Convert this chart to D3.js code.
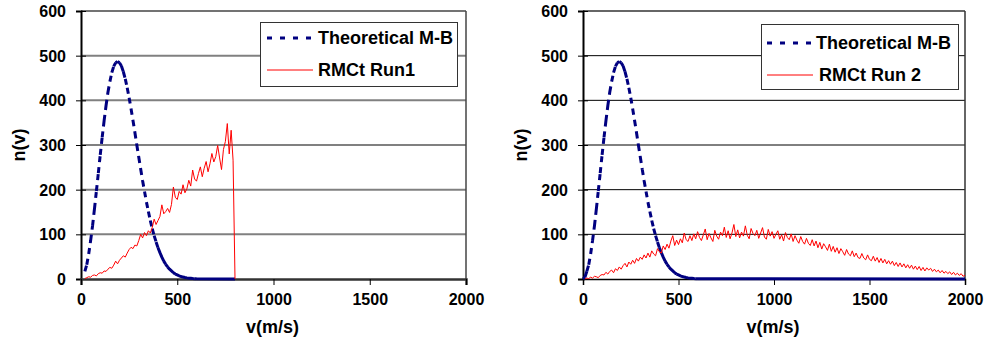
<!DOCTYPE html>
<html>
<head>
<meta charset="utf-8">
<script src="https://cdn.jsdelivr.net/npm/d3@7"></script>
<style>
  html, body { margin: 0; padding: 0; background: #fff; }
  svg { display: block; }
  text { font-family: "Liberation Sans", Arial, Helvetica, sans-serif; font-weight: bold; fill: #000; }
</style>
</head>
<body>
<script>
// ---------------- data ----------------
const xTickValues = [0, 500, 1000, 1500, 2000];
const yTickValues = [0, 100, 200, 300, 400, 500, 600];
const xTitle = "v(m/s)";
const yTitle = "n(v)";
const seriesNames1 = ["Theoretical M-B", "RMCt Run1"];
const seriesNames2 = ["Theoretical M-B", "RMCt Run 2"];

// Theoretical Maxwell-Boltzmann curve, v = 0..600 step 10
const mbV = [0,10,20,30,40,50,60,70,80,90,100,110,120,130,140,150,160,170,180,190,200,
  210,220,230,240,250,260,270,280,290,300,310,320,330,340,350,360,370,380,390,400,
  410,420,430,440,450,460,470,480,490,500,510,520,530,540,550,560,570,580,590,600];
const mbN = [0,4,17,32,56,86,119,157,197,237,278,317,354,388,418,442,462,476,484,487,484,
  477,464,448,428,406,381,355,328,300,273,246,220,196,172,151,131,113,97,83,70,
  59,49,40,33,27,22,18,14,11,9,7,5.5,4.3,3.3,2.5,1.9,1.5,1.1,0.8,0.6];
// flat end of the theoretical curve in each panel
const mbEnd1 = {v: 800, n: 0};
const mbEnd2 = {v: 2000, n: 0};

// RMCt Run1, v = 20..800 step 10
const run1V = [20,30,40,50,60,70,80,90,100,110,120,130,140,150,160,170,180,190,200,
  210,220,230,240,250,260,270,280,290,300,310,320,330,340,350,360,370,380,390,400,
  410,420,430,440,450,460,470,480,490,500,510,520,530,540,550,560,570,580,590,600,
  610,620,630,640,650,660,670,680,690,700,710,720,730,740,750,760,770,780,790,800];
const run1N = [1,3,5,4,8,9,7,12,14,13,18,17,22,26,24,31,40,34,42,
  47,52,49,58,66,71,68,76,74,86,100,92,104,97,108,103,115,134,122,131,
  140,166,146,151,158,149,167,206,183,178,196,190,211,193,202,221,208,244,224,219,
  236,251,229,248,263,240,258,281,262,274,299,271,245,290,308,348,280,333,266,0];

// RMCt Run 2, v = 10..2000 step 10
const run2N = [
  0,2,1,4,2,6,5,3,8,10,
  9,15,11,17,20,14,23,19,27,22,
  30,35,27,38,33,42,35,46,40,49,
  44,54,47,58,49,63,56,52,68,61,
  58,74,66,78,69,85,97,75,87,77,
  90,81,103,88,84,97,86,101,90,106,
  93,86,99,112,88,102,92,84,109,96,
  89,105,97,116,93,108,90,103,122,95,
  110,92,105,96,119,98,90,113,102,97,
  109,91,103,115,94,89,111,96,106,91,
  100,108,89,99,85,104,93,88,101,84,
  97,87,80,95,84,78,91,80,75,88,
  74,85,70,82,67,79,72,64,78,62,
  73,60,70,57,68,61,53,66,56,52,
  63,50,58,48,46,57,47,43,54,44,
  41,51,40,48,37,46,36,44,34,41,
  33,40,30,37,28,36,27,34,25,32,
  24,31,22,29,21,28,19,26,18,25,
  20,24,17,22,16,20,14,19,13,17,
  12,16,10,15,9,13,8,12,6,9];
const run2Start = 10, run2Step = 10;

// ---------------- layout ----------------
const W = 986, H = 349;
const svg = d3.select("body").append("svg").attr("width", W).attr("height", H);
svg.append("rect").attr("width", W).attr("height", H).attr("fill", "#fff");

const panels = [
  { x0: 81, x1: 466, yTop: 11, yBot: 279,
    grid: "#808080", gridW: 2, xAxisColor: "#333", xAxisW: 2.5, frame: "#444",
    yTitleX: 19, labelRight: 66,
    mb: mbV.slice(2).map((v, i) => ({v, n: mbN[i + 2]})).concat([mbEnd1]),
    red: run1V.map((v, i) => ({v, n: run1N[i]})),
    names: seriesNames1,
    legend: {x: 260, y: 22, w: 197, h: 64, r1: 38, r2: 70, lx0: 267, lx1: 313, tx: 318, tx2: 318} },
  { x0: 583, x1: 965, yTop: 11, yBot: 279,
    grid: "#000", gridW: 1, xAxisColor: "#000", xAxisW: 1.5, frame: "#333",
    yTitleX: 521, labelRight: 568,
    mb: mbV.map((v, i) => ({v, n: mbN[i]})).concat([mbEnd2]),
    red: run2N.map((n, i) => ({v: run2Start + i * run2Step, n})),
    names: seriesNames2,
    legend: {x: 761, y: 24, w: 197, h: 65, r1: 43, r2: 75, lx0: 767, lx1: 813, tx: 816, tx2: 819} }
];

panels.forEach(p => {
  const x = d3.scaleLinear().domain([0, 2000]).range([p.x0, p.x1]);
  const y = d3.scaleLinear().domain([0, 600]).range([p.yBot, p.yTop]);
  const g = svg.append("g");

  // gridlines
  g.selectAll("line.grid").data(yTickValues.filter(d => d > 0 && d < 600)).enter()
    .append("line").attr("x1", p.x0).attr("x2", p.x1)
    .attr("y1", d => y(d)).attr("y2", d => y(d))
    .attr("stroke", p.grid).attr("stroke-width", p.gridW);

  // frame top & right
  g.append("line").attr("x1", p.x0).attr("x2", p.x1).attr("y1", y(600)).attr("y2", y(600))
    .attr("stroke", p.frame).attr("stroke-width", 1.5);
  g.append("line").attr("x1", p.x1).attr("x2", p.x1).attr("y1", y(600)).attr("y2", y(0))
    .attr("stroke", p.frame).attr("stroke-width", 1.5);

  // y axis
  const yAxis = d3.axisLeft(y).tickValues(yTickValues).tickSize(5).tickPadding(12)
    .tickFormat(d3.format("d"));
  const ya = g.append("g").attr("transform", `translate(${p.x0},0)`).call(yAxis);
  ya.select(".domain").attr("stroke", "#000").attr("stroke-width", 2);
  ya.selectAll(".tick line").attr("stroke", "#000").attr("stroke-width", 1)
    .attr("x2", -5).attr("x1", 5);
  ya.selectAll(".tick text").attr("font-size", 16).attr("font-family", null)
    .attr("x", p.labelRight - p.x0).attr("dy", "0.35em");

  // x axis
  const xAxis = d3.axisBottom(x).tickValues(xTickValues).tickSize(6).tickPadding(8)
    .tickFormat(d3.format("d"));
  const xa = g.append("g").attr("transform", `translate(0,${p.yBot})`).call(xAxis);
  xa.select(".domain").attr("stroke", p.xAxisColor).attr("stroke-width", p.xAxisW);
  xa.selectAll(".tick line").attr("stroke", "#000").attr("stroke-width", 1);
  xa.selectAll(".tick text").attr("font-size", 16).attr("font-family", null)
    .attr("y", 26).attr("dy", 0);

  // axis titles
  g.append("text").attr("x", (p.x0 + p.x1) / 2 - 1).attr("y", 333)
    .attr("text-anchor", "middle").attr("font-size", 18).text(xTitle);
  g.append("text").attr("transform", `translate(${p.yTitleX + 6},${(p.yTop + p.yBot) / 2})rotate(-90)`)
    .attr("text-anchor", "middle").attr("font-size", 18).text(yTitle);

  // theoretical curve: dashes restart at each segment (subpath)
  let dashed = "", solid = "";
  for (let i = 0; i < p.mb.length - 1; i++) {
    const a = p.mb[i], b = p.mb[i + 1];
    const seg = `M${x(a.v)},${y(a.n)}L${x(b.v)},${y(b.n)}`;
    if (a.n < 1 && b.n < 1) solid += seg; else dashed += seg;
  }
  g.append("path").attr("d", dashed).attr("fill", "none").attr("stroke", "#000080")
    .attr("stroke-width", 3).attr("stroke-dasharray", "6,5");
  g.append("path").attr("d", solid).attr("fill", "none").attr("stroke", "#000080")
    .attr("stroke-width", 3);

  // RMCt run
  const line = d3.line().x(d => x(d.v)).y(d => y(d.n));
  g.append("path").datum(p.red).attr("d", line).attr("fill", "none")
    .attr("stroke", "#ff0000").attr("stroke-width", 1);

  // legend
  const L = p.legend;
  const lg = g.append("g");
  lg.append("rect").attr("x", L.x + 0.5).attr("y", L.y + 0.5).attr("width", L.w).attr("height", L.h)
    .attr("fill", "#fff").attr("stroke", "#333").attr("stroke-width", 1);
  lg.append("line").attr("x1", L.lx0).attr("x2", L.lx1).attr("y1", L.r1).attr("y2", L.r1)
    .attr("stroke", "#000080").attr("stroke-width", 3).attr("stroke-dasharray", "5,8");
  lg.append("line").attr("x1", L.lx0).attr("x2", L.lx1).attr("y1", L.r2).attr("y2", L.r2)
    .attr("stroke", "#ff0000").attr("stroke-width", 1);
  lg.append("text").attr("x", L.tx).attr("y", L.r1).attr("dy", "0.36em")
    .attr("font-size", 18).text(p.names[0]);
  lg.append("text").attr("x", L.tx2).attr("y", L.r2).attr("dy", "0.36em")
    .attr("font-size", 18).text(p.names[1]);
});
</script>
</body>
</html>
